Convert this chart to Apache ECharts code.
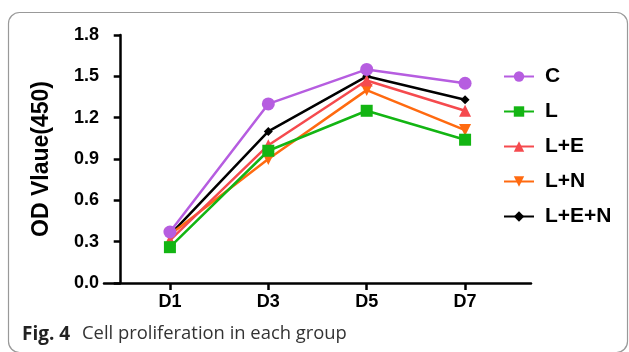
<!DOCTYPE html>
<html><head><meta charset="utf-8">
<script src="https://cdn.jsdelivr.net/npm/echarts@6/dist/echarts.min.js"></script>
<style>html,body{margin:0;padding:0;background:#fff}#c{width:629px;height:352px}</style>
</head><body><div id="c"></div>
<script>
const categories = ['D1','D3','D5','D7'];
const dayPos = [1,3,5,7];
const seriesNames = ['C','L','L+E','L+N','L+E+N'];
const valC = [0.37, 1.30, 1.55, 1.45];
const valL = [0.26, 0.96, 1.25, 1.04];
const valLE = [0.31, 1.00, 1.47, 1.25];
const valLN = [0.35, 0.90, 1.40, 1.11];
const valLEN = [0.35, 1.10, 1.50, 1.33];

const colors = ['#b65de0','#13b513','#f54a4e','#ff6a10','#000000'];
const symbols = ['circle','rect','triangle','triangle','diamond'];
const rot = [0,0,0,180,0];
const sizes = [13,12,12,12,9];
const vals = [valC, valL, valLE, valLN, valLEN];

const chart = echarts.init(document.getElementById('c'));
chart.setOption({
  animation:false,
  grid:{left:104, top:35, right:98, bottom:69},
  xAxis:{type:'value', min:-0.34, max:8.34,
    axisLine:{lineStyle:{color:'#000',width:2.5}},
    axisTick:{customValues:dayPos, length:7, lineStyle:{color:'#000',width:2.5}},
    axisLabel:{customValues:dayPos, formatter:v=>categories[dayPos.indexOf(v)]||'', color:'#000', fontWeight:'bold', fontSize:18, fontFamily:'Liberation Sans', margin:10},
    splitLine:{show:false}},
  yAxis:{type:'value', min:0, max:1.8, interval:0.3,
    name:'OD Vlaue(450)', nameLocation:'middle', nameGap:51, nameRotate:90,
    nameTextStyle:{color:'#000', fontWeight:'bold', fontSize:23, fontFamily:'Liberation Sans'},
    axisLine:{show:true, lineStyle:{color:'#000',width:2.5}},
    axisTick:{show:true, length:7, lineStyle:{color:'#000',width:2.5}},
    axisLabel:{formatter:v=>v.toFixed(1), color:'#000', fontWeight:'bold', fontSize:18, fontFamily:'Liberation Sans', margin:5},
    splitLine:{show:false}},
  legend:{orient:'vertical', left:498, top:61, itemGap:14, itemWidth:30, itemHeight:13,
    textStyle:{color:'#000', fontWeight:'bold', fontSize:21, fontFamily:'Liberation Sans', padding:[0,0,0,6]},
    data:seriesNames},
  graphic:[
    {type:'rect', shape:{x:8.5, y:12.5, width:619, height:340, r:11}, style:{fill:'none', stroke:'#999', lineWidth:1.2}, silent:true},
    {type:'text', left:22, top:325, style:{text:'Fig. 4', font:'bold 19px "Open Sans"', fill:'#222'}},
    {type:'text', left:82, top:325, style:{text:'Cell proliferation in each group', font:'18.4px "Open Sans"', fill:'#333'}}
  ],
  series: seriesNames.map((n,i)=>({
    name:n, type:'line', data: vals[i].map((v,j)=>[dayPos[j], v]),
    symbol:symbols[i], symbolSize:sizes[i], symbolRotate:rot[i],
    lineStyle:{color:colors[i], width:2.5}, itemStyle:{color:colors[i]},
    z: 10 - i
  }))
});
</script></body></html>
